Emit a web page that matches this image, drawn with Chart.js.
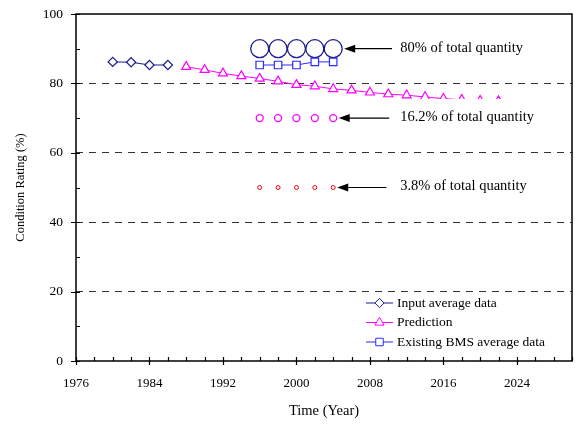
<!DOCTYPE html>
<html>
<head>
<meta charset="utf-8">
<script src="https://cdn.jsdelivr.net/npm/chart.js@4"></script>
<style>
  html, body { margin: 0; padding: 0; background: #fff; overflow: hidden; }
  canvas { display: block; }
</style>
</head>
<body>
<canvas id="chart" width="575" height="424"></canvas>
<script>
// data
const inputYears = [1980, 1982, 1984, 1986];
const inputRating = [86.2, 86.1, 85.3, 85.3];

const predYears = [1988, 1990, 1992, 1994, 1996, 1998, 2000, 2002, 2004, 2006, 2008, 2010, 2012, 2014, 2016, 2018, 2020, 2022];
const predRating = [84.8, 83.9, 82.9, 82.1, 81.4, 80.6, 79.6, 79.2, 78.4, 78.0, 77.4, 76.9, 76.6, 76.1, 75.6, 75.3, 75.0, 74.9];

const bmsYears = [1996, 1998, 2000, 2002, 2004];
const bmsRating = [85.3, 85.3, 85.3, 86.2, 86.2];

const groupYears = [1996, 1998, 2000, 2002, 2004];
const group80 = [90, 90, 90, 90, 90];
const group16 = [70, 70, 70, 70, 70];
const group4 = [50, 50, 50, 50, 50];
const groupNotes = ['80% of total quantity', '16.2% of total quantity', '3.8% of total quantity'];

const xTicks = [1976, 1984, 1992, 2000, 2008, 2016, 2024];
const yTicks = [0, 20, 40, 60, 80, 100];

const serif = '"Liberation Serif", "Times New Roman", serif';

function pts(xs, ys) {
  return xs.map((x, i) => ({ x: x, y: ys[i] }));
}

// marks, ticks, notes and legend drawn by hand
const extras = {
  id: 'extras',
  afterDraw(chart) {
    const ctx = chart.ctx;
    const area = chart.chartArea;
    const xs = chart.scales.x;
    const ys = chart.scales.y;
    ctx.save();

    // frame
    ctx.strokeStyle = '#000';
    ctx.lineWidth = 1.5;
    ctx.strokeRect(area.left, area.top, area.right - area.left, area.bottom - area.top);

    // tick marks
    ctx.lineWidth = 1.2;
    ctx.beginPath();
    for (let v = 0; v <= 100; v += 10) {
      const y = Math.round(ys.getPixelForValue(v)) + 0.5;
      if (v % 20 === 0) {
        ctx.moveTo(area.left - 5, y);
      } else {
        ctx.moveTo(area.left, y);
      }
      ctx.lineTo(area.left + 4, y);
    }
    for (let v = 1976; v <= 2030; v += 2) {
      const x = Math.round(xs.getPixelForValue(v)) + 0.5;
      ctx.moveTo(x, area.bottom - 4);
      ctx.lineTo(x, (v - 1976) % 8 === 0 ? area.bottom + 4 : area.bottom);
    }
    ctx.stroke();

    // notes with arrows
    const groups = [group80, group16, group4];
    const radii = [9, 3.5, 2];
    ctx.font = '14.5px ' + serif;
    ctx.textBaseline = 'middle';
    ctx.fillStyle = '#000';
    groups.forEach((g, i) => {
      const y = ys.getPixelForValue(g[g.length - 1]);
      const tip = xs.getPixelForValue(groupYears[groupYears.length - 1]) + radii[i] + 2;
      const tail = xs.getPixelForValue(2010.4 - i * 0.3);
      ctx.beginPath();
      ctx.lineWidth = 1.2;
      ctx.moveTo(tail, y);
      ctx.lineTo(tip + 8, y);
      ctx.stroke();
      ctx.beginPath();
      ctx.moveTo(tip, y);
      ctx.lineTo(tip + 11, y - 4);
      ctx.lineTo(tip + 11, y + 4);
      ctx.closePath();
      ctx.fill();
      ctx.fillText(groupNotes[i], xs.getPixelForValue(2011.3), y - 1);
    });

    // legend
    ctx.font = '13.5px ' + serif;
    const lx = area.right - 206;
    chart.data.datasets.slice(0, 3).forEach((ds, i) => {
      const y = area.bottom - 58 + i * 19.5;
      ctx.strokeStyle = ds.borderColor;
      ctx.lineWidth = 1;
      ctx.beginPath();
      ctx.moveTo(lx, y);
      ctx.lineTo(lx + 27, y);
      ctx.stroke();
      ctx.fillStyle = '#fff';
      Chart.helpers.drawPoint(ctx, { pointStyle: ds.pointStyle, radius: ds.pointRadius, borderWidth: 1, rotation: 0 }, lx + 13.5, y);
      ctx.fillStyle = '#000';
      ctx.fillText(ds.label, lx + 31, y);
    });

    ctx.restore();
  }
};

new Chart(document.getElementById('chart'), {
  type: 'scatter',
  data: {
    datasets: [
      {
        label: 'Input average data',
        data: pts(inputYears, inputRating),
        showLine: true,
        borderColor: '#1a1a8a',
        borderWidth: 1,
        pointStyle: 'rectRot',
        pointRadius: 4.6,
        pointBorderWidth: 1.2,
        pointBackgroundColor: '#fff'
      },
      {
        label: 'Prediction',
        data: pts(predYears, predRating),
        showLine: true,
        borderColor: '#ff00ff',
        borderWidth: 1,
        pointStyle: 'triangle',
        pointRadius: 5.2,
        pointBorderWidth: 1.2,
        pointBackgroundColor: '#fff',
        clip: { left: 10, top: 10, right: 10, bottom: -262 }
      },
      {
        label: 'Existing BMS average data',
        data: pts(bmsYears, bmsRating),
        showLine: true,
        borderColor: '#2b2bff',
        borderWidth: 1,
        pointStyle: 'rect',
        pointRadius: 5.3,
        pointBorderWidth: 1.2,
        pointBackgroundColor: '#fff'
      },
      {
        label: 'g80',
        data: pts(groupYears, group80),
        borderColor: '#1a1a8a',
        pointStyle: 'circle',
        pointRadius: 9,
        pointBorderWidth: 1.3,
        pointBackgroundColor: 'rgba(0,0,0,0)'
      },
      {
        label: 'g16',
        data: pts(groupYears, group16),
        borderColor: '#ff00ff',
        pointStyle: 'circle',
        pointRadius: 3.5,
        pointBorderWidth: 1.3,
        pointBackgroundColor: 'rgba(0,0,0,0)'
      },
      {
        label: 'g4',
        data: pts(groupYears, group4),
        borderColor: '#ee0000',
        pointStyle: 'circle',
        pointRadius: 2,
        pointBorderWidth: 1,
        pointBackgroundColor: 'rgba(0,0,0,0)'
      }
    ]
  },
  options: {
    responsive: false,
    animation: false,
    layout: { autoPadding: false, padding: { top: 14, right: 3, left: 0, bottom: 0 } },
    plugins: {
      legend: { display: false },
      tooltip: { enabled: false }
    },
    scales: {
      x: {
        type: 'linear',
        min: 1976,
        max: 2030,
        afterBuildTicks: (s) => { s.ticks = xTicks.map(v => ({ value: v })); },
        afterFit: (s) => { s.height = 63; s.paddingLeft = 0; s.paddingRight = 0; },
        grid: { drawOnChartArea: false, tickLength: 8, tickColor: 'rgba(0,0,0,0)' },
        border: { display: false },
        ticks: { color: '#000', font: { family: serif, size: 13 }, padding: 7, maxRotation: 0, callback: (v) => String(v) },
        title: { display: true, text: 'Time (Year)', color: '#000', font: { family: serif, size: 14.5 }, padding: { top: 0, bottom: 4 } }
      },
      y: {
        min: 0,
        max: 100,
        afterBuildTicks: (s) => { s.ticks = yTicks.map(v => ({ value: v })); },
        afterFit: (s) => { s.width = 76; },
        grid: {
          color: (c) => (c.tick && c.tick.value > 0 && c.tick.value < 100) ? '#333' : 'rgba(0,0,0,0)',
          lineWidth: 1,
          tickLength: 8,
          tickColor: 'rgba(0,0,0,0)'
        },
        border: { display: false, dash: [7, 6] },
        ticks: { color: '#000', font: { family: serif, size: 13.5 }, padding: 5, callback: (v) => String(v) },
        title: { display: true, text: 'Condition Rating (%)', color: '#000', font: { family: serif, size: 12.5 }, padding: { top: 13, bottom: 0 } }
      }
    }
  },
  plugins: [extras]
});
</script>
</body>
</html>
